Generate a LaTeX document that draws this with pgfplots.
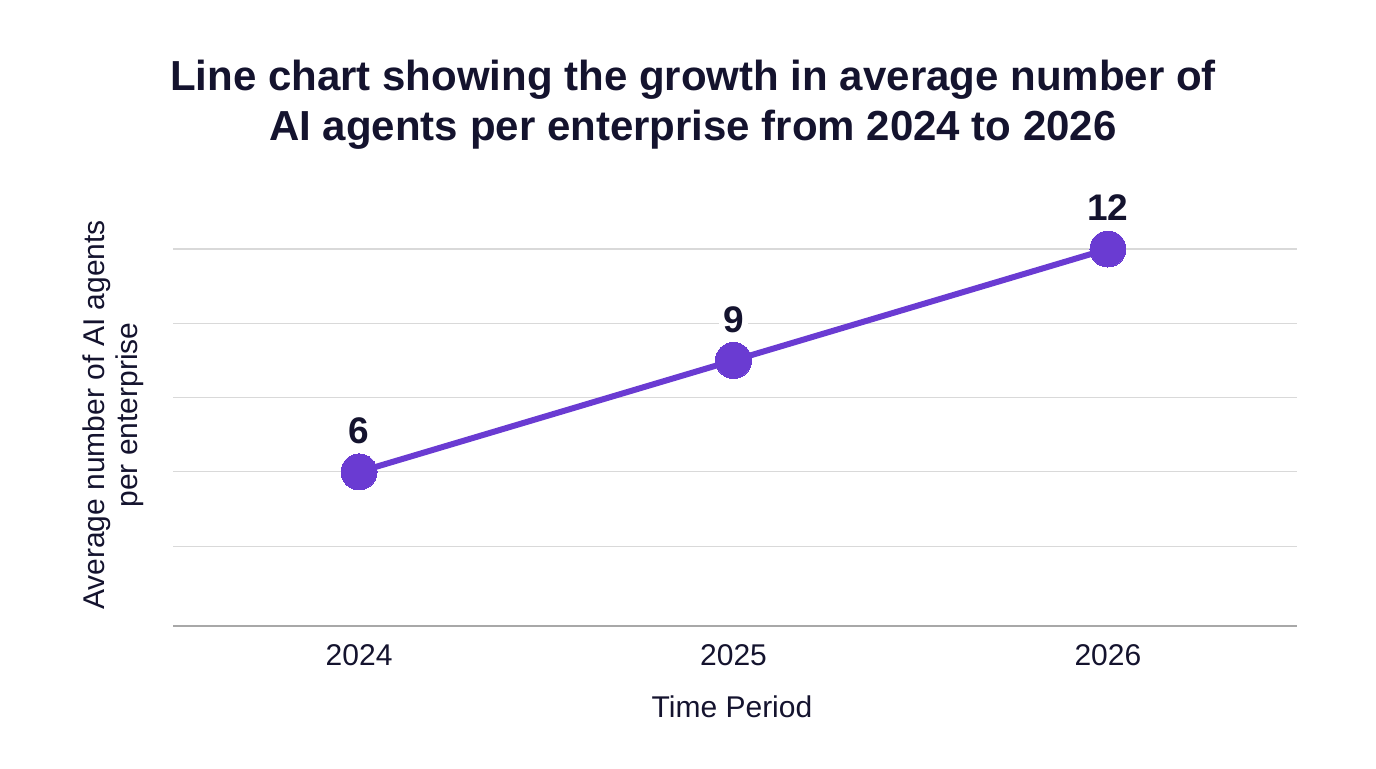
\documentclass[border=0pt]{standalone}
\usepackage{pgfplots}
\pgfplotsset{compat=1.18}
\usepackage{fontspec}
\setmainfont{Liberation Sans}
\definecolor{linepurple}{HTML}{6A3BD2}
\definecolor{textnavy}{HTML}{14132E}
\definecolor{gridgray}{HTML}{D9D9D9}
\definecolor{axisgray}{HTML}{A8A8A8}
\begin{document}
\begin{tikzpicture}
\useasboundingbox (0,0) rectangle (688pt,384pt);
\begin{axis}[
  at={(86.5pt,71pt)}, anchor=south west,
  scale only axis, width=562pt, height=188.5pt,
  xmin=2023.503, xmax=2026.505, ymin=1.85, ymax=12,
  axis lines*=left,
  x axis line style={draw=axisgray, line width=0.8pt, -},
  y axis line style={draw=none},
  xtick={2024,2025,2026}, xticklabels={2024,2025,2026},
  major tick length=0pt,
  ytick={4,6,8,10,12}, yticklabels={},
  ymajorgrids, grid style={draw=gridgray, line width=0.6pt},
  xticklabel style={anchor=center, yshift=-14.5pt, font=\fontsize{15}{18}\selectfont, text=textnavy},
  /pgf/number format/assume math mode=true,
  clip=false,
  nodes near coords,
  every node near coord/.append style={anchor=center, yshift=20.5pt, font=\fontsize{18.5}{20}\selectfont\bfseries, text=textnavy, fill=white, inner sep=2pt},
]
\addplot[linepurple, line width=3pt, mark=*, mark size=9pt, mark options={fill=linepurple, draw=linepurple, line width=0pt}]
  coordinates {(2024,6) (2025,9) (2026,12)};
\end{axis}
\node[text=textnavy, align=center, font=\fontsize{21}{25}\selectfont\bfseries] at (346.5pt,331.5pt) {Line chart showing the growth in average number of\\AI agents per enterprise from 2024 to 2026};
\node[text=textnavy, align=center, rotate=90, font=\fontsize{15}{16.5}\selectfont] at (56.5pt,176.5pt) {Average number of AI agents\\per enterprise};
\node[text=textnavy, font=\fontsize{15}{18}\selectfont] at (366pt,30.5pt) {Time Period};
\end{tikzpicture}
\end{document}
